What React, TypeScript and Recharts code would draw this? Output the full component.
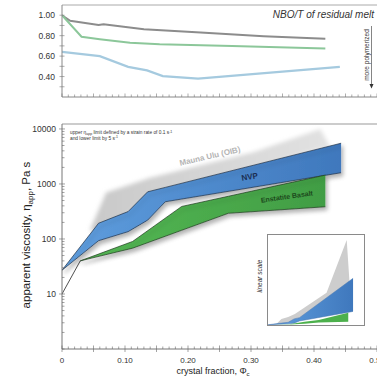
import { ComposedChart, Line, Area, XAxis, YAxis, ReferenceLine, ReferenceDot } from 'recharts';

const FONT = '"Liberation Sans", Arial, Helvetica, sans-serif';

// top panel - NBO/T of residual melt
const grayNboX = [0, 0.013, 0.058, 0.066, 0.13, 0.22, 0.32, 0.418];
const grayNboY = [1.0, 0.945, 0.905, 0.912, 0.862, 0.83, 0.795, 0.77];
const greenNboX = [0, 0.031, 0.06, 0.108, 0.155, 0.27, 0.418];
const greenNboY = [1.0, 0.79, 0.765, 0.73, 0.716, 0.7, 0.675];
const blueNboX = [0, 0.06, 0.105, 0.135, 0.16, 0.216, 0.441];
const blueNboY = [0.642, 0.6, 0.495, 0.46, 0.405, 0.38, 0.495];

// bottom panel - apparent viscosity envelopes (upper / lower limit)
const nvpX = [0, 0.058, 0.105, 0.136, 0.164, 0.443];
const nvpLow = [27, 93, 136, 220, 475, 1600];
const nvpHigh = [27, 193, 315, 720, 866, 5500];

const ebX = [0.029, 0.112, 0.19, 0.264, 0.418];
const ebLow = [40, 68, 144, 293, 385];
const ebHigh = [40, 90, 390, 597, 1450];

const muX = [0.045, 0.07, 0.105, 0.14, 0.305, 0.41, 0.425];
const muLow = [140, 150, 280, 650, 1900, 4300, 4400];
const muHigh = [150, 700, 950, 1300, 3800, 10000, 4900];

const connX = [0, 0.029];
const connY = [10, 40];

const nboTicks = [0.3, 0.4, 0.5, 0.6, 0.7, 0.8, 0.9, 1.0];
const decades = [10, 100, 1000, 10000];
const logTicks = [1, 2, 3, 4, 5, 6, 7, 8, 9].flatMap((m) => [m, m * 10, m * 100, m * 1000]).concat([10000]);
const xTicks = Array.from({ length: 51 }, (_, i) => i / 100);

const toPts = (xs: number[], ys: number[]) => xs.map((x, i) => ({ x, y: ys[i] }));
const toRange = (xs: number[], lo: number[], hi: number[]) =>
  xs.map((x, i) => ({ x, range: [lo[i], hi[i]] }));

const grayNbo = toPts(grayNboX, grayNboY);
const greenNbo = toPts(greenNboX, greenNboY);
const blueNbo = toPts(blueNboX, blueNboY);
const nvpData = toRange(nvpX, nvpLow, nvpHigh);
const ebData = toRange(ebX, ebLow, ebHigh);
const muData = toRange(muX, muLow, muHigh);
const connData = toPts(connX, connY);

const xTickTop = (props: any) => {
  const { x, y, payload } = props;
  const v = Math.round(payload.value * 100);
  const major = v % 5 === 0;
  return <line x1={x} x2={x} y1={y} y2={y - (major ? 3.5 : 2.5)} stroke="#777" strokeWidth={0.6} />;
};

const xTickBottom = (props: any) => {
  const { x, y, payload } = props;
  const v = Math.round(payload.value * 100);
  const major = v % 5 === 0;
  return (
    <g>
      <line x1={x} x2={x} y1={major ? y + 3 : y} y2={y - (major ? 3.5 : 2.5)} stroke="#666" strokeWidth={0.6} />
      {v % 10 === 0 && (
        <text x={x} y={y + 14} textAnchor="middle" fontSize={8} fill="#333" fontFamily={FONT}>
          {v === 0 ? '0' : (v / 100).toFixed(2)}
        </text>
      )}
    </g>
  );
};

const yTickNbo = (props: any) => {
  const { x, y, payload } = props;
  const v = payload.value;
  const labeled = Math.round(v * 10) % 2 === 0;
  return (
    <g>
      <line x1={x - 2.5} x2={x + 2.5} y1={y} y2={y} stroke="#777" strokeWidth={0.6} />
      {labeled && (
        <text x={x - 7} y={y + 3} textAnchor="end" fontSize={8.5} fill="#333" fontFamily={FONT}>
          {v.toFixed(2)}
        </text>
      )}
    </g>
  );
};

const yTickLog = (props: any) => {
  const { x, y, payload } = props;
  const v = payload.value;
  const major = decades.includes(v);
  return (
    <g>
      <line x1={major ? x - 3 : x} x2={x + (major ? 3 : 2.5)} y1={y} y2={y} stroke="#666" strokeWidth={0.6} />
      {major && (
        <text x={x - 6} y={y + 3} textAnchor="end" fontSize={8.5} fill="#333" fontFamily={FONT}>
          {v}
        </text>
      )}
    </g>
  );
};

const areaLabel = (text: string, angle: number, fill: string, size: number) => (p: any) => (
  <text
    x={p.cx}
    y={p.cy}
    textAnchor="middle"
    dominantBaseline="middle"
    transform={`rotate(${angle} ${p.cx} ${p.cy})`}
    fontSize={size}
    fontWeight="bold"
    fill={fill}
    fontFamily={FONT}
  >
    {text}
  </text>
);

function Defs() {
  return (
    <defs>
      <linearGradient id="nvpFill" x1="0" y1="0" x2="1" y2="0">
        <stop offset="0%" stopColor="#5f9ede" />
        <stop offset="100%" stopColor="#3f78bd" />
      </linearGradient>
      <linearGradient id="ebFill" x1="0" y1="0" x2="1" y2="0">
        <stop offset="0%" stopColor="#55b955" />
        <stop offset="100%" stopColor="#419d44" />
      </linearGradient>
      <linearGradient id="muFill" x1="0" y1="0" x2="1" y2="0">
        <stop offset="0%" stopColor="#c9c9c9" />
        <stop offset="100%" stopColor="#e2e2e2" />
      </linearGradient>
      <filter id="shadow" x="-10%" y="-10%" width="130%" height="140%">
        <feDropShadow dx="2" dy="3" stdDeviation="2" floodColor="#000" floodOpacity="0.3" />
      </filter>
      <filter id="blur" x="-10%" y="-10%" width="130%" height="130%">
        <feGaussianBlur stdDeviation="2.2" />
      </filter>
    </defs>
  );
}

export default function App() {
  return (
    <div style={{ position: 'absolute', left: 0, top: 0, width: 377, height: 381, background: '#fff', fontFamily: FONT }}>
      <div style={{ position: 'absolute', left: 0, top: 0 }}>
        <ComposedChart width={377} height={110} margin={{ top: 5, right: 0, left: 0, bottom: 0 }}>
          <XAxis
            type="number"
            dataKey="x"
            domain={[0, 0.5]}
            ticks={xTicks}
            interval={0}
            allowDataOverflow
            height={13}
            tickSize={0}
            tickMargin={0}
            tickLine={false}
            tick={xTickTop}
            axisLine={{ stroke: '#888' }}
          />
          <YAxis
            type="number"
            domain={[0.2, 1.1]}
            ticks={nboTicks}
            interval={0}
            allowDataOverflow
            width={62}
            tickSize={0}
            tickMargin={0}
            tickLine={false}
            tick={yTickNbo}
            axisLine={{ stroke: '#888' }}
          />
          <ReferenceLine y={1.1} stroke="#aaa" strokeWidth={1} />
          <Line data={grayNbo} dataKey="y" type="linear" stroke="#8c8c8c" strokeWidth={2} dot={false} isAnimationActive={false} />
          <Line data={greenNbo} dataKey="y" type="linear" stroke="#8cc79a" strokeWidth={2} dot={false} isAnimationActive={false} />
          <Line data={blueNbo} dataKey="y" type="linear" stroke="#a5cadf" strokeWidth={2.2} dot={false} isAnimationActive={false} />
        </ComposedChart>
      </div>

      <div style={{ position: 'absolute', left: 0, top: 110 }}>
        <ComposedChart width={377} height={271} margin={{ top: 14, right: 0, left: 0, bottom: 0 }}>
          <Defs />
          <XAxis
            type="number"
            dataKey="x"
            domain={[0, 0.5]}
            ticks={xTicks}
            interval={0}
            allowDataOverflow
            height={32}
            tickSize={0}
            tickMargin={0}
            tickLine={false}
            tick={xTickBottom}
            axisLine={{ stroke: '#777' }}
          />
          <YAxis
            type="number"
            scale="log"
            domain={[1, 12300]}
            ticks={logTicks}
            interval={0}
            allowDataOverflow
            width={62}
            tickSize={0}
            tickMargin={0}
            tickLine={false}
            tick={yTickLog}
            axisLine={{ stroke: '#777' }}
          />
          <ReferenceLine y={12300} stroke="#999" strokeWidth={1} />
          <Area data={muData} dataKey="range" type="linear" fill="url(#muFill)" fillOpacity={1} stroke="none" filter="url(#blur)" isAnimationActive={false} />
          <Area data={nvpData} dataKey="range" type="linear" fill="url(#nvpFill)" fillOpacity={1} stroke="#1f2f45" strokeWidth={0.7} filter="url(#shadow)" isAnimationActive={false} />
          <Area data={ebData} dataKey="range" type="linear" fill="url(#ebFill)" fillOpacity={1} stroke="#1f3a1f" strokeWidth={0.7} filter="url(#shadow)" isAnimationActive={false} />
          <Line data={connData} dataKey="y" type="linear" stroke="#222" strokeWidth={0.8} dot={false} isAnimationActive={false} />
          <ReferenceDot x={0.235} y={3130} r={0} shape={areaLabel('Mauna Ulu (OIB)', -13, '#b4b4b4', 8)} />
          <ReferenceDot x={0.298} y={1320} r={0} shape={areaLabel('NVP', -10, '#1b2d52', 8)} />
          <ReferenceDot x={0.357} y={573} r={0} shape={areaLabel('Enstatite Basalt', -8, '#1d4a1d', 7)} />
        </ComposedChart>
      </div>

      {/* inset, same data on a linear scale */}
      <div style={{ position: 'absolute', left: 267, top: 234, width: 96, height: 90, border: '1px solid #8a8a8a', background: '#fff' }}>
        <ComposedChart width={96} height={90} margin={{ top: 0, right: 0, left: 0, bottom: 0 }}>
          <XAxis type="number" dataKey="x" domain={[0, 0.5]} allowDataOverflow hide />
          <YAxis type="number" domain={[0, 10600]} allowDataOverflow hide />
          <Area data={muData} dataKey="range" type="linear" fill="#cdcdcd" fillOpacity={1} stroke="none" isAnimationActive={false} />
          <Area data={nvpData} dataKey="range" type="linear" fill="url(#nvpFill)" fillOpacity={1} stroke="#4a78b0" strokeWidth={0.5} isAnimationActive={false} />
          <Area data={ebData} dataKey="range" type="linear" fill="#4cb04c" fillOpacity={1} stroke="none" isAnimationActive={false} />
        </ComposedChart>
      </div>

      <svg width={377} height={381} style={{ position: 'absolute', left: 0, top: 0, pointerEvents: 'none' }} fontFamily={FONT}>
        <text x={374} y={18} textAnchor="end" fontSize={10} fontStyle="italic" fill="#333">
          NBO/T of residual melt
        </text>
        <text x={369} y={55} textAnchor="middle" fontSize={6.5} fill="#333" transform="rotate(-90 369 55)">
          more polymerized
        </text>
        <line x1={371.5} x2={371.5} y1={26} y2={84} stroke="#333" strokeWidth={0.6} />
        <path d="M369.5 84 L373.5 84 L371.5 88.5 Z" fill="#333" />

        <text x={70} y={134} fontSize={4.8} fill="#333">
          upper η<tspan fontSize={3.5} dy={1}>app</tspan>
          <tspan dy={-1}> limit defined by a strain rate of 0.1 s</tspan>
          <tspan fontSize={3.5} dy={-1.5}>-1</tspan>
        </text>
        <text x={70} y={139.5} fontSize={4.8} fill="#333">
          and lower limit by 5 s<tspan fontSize={3.5} dy={-1.5}>-1</tspan>
        </text>

        <text x={30} y={235} textAnchor="middle" fontSize={11.5} fill="#222" transform="rotate(-90 30 235)">
          apparent viscosity, η<tspan fontSize={8} dy={2.5}>app</tspan>
          <tspan dy={-2.5}>, Pa s</tspan>
        </text>
        <text x={213} y={374} textAnchor="middle" fontSize={9} fill="#222">
          crystal fraction, Φ<tspan fontSize={6} dy={2}>c</tspan>
        </text>
        <text x={262} y={276} textAnchor="middle" fontSize={6.5} fontStyle="italic" fill="#333" transform="rotate(-90 262 276)">
          linear scale
        </text>
      </svg>
    </div>
  );
}
